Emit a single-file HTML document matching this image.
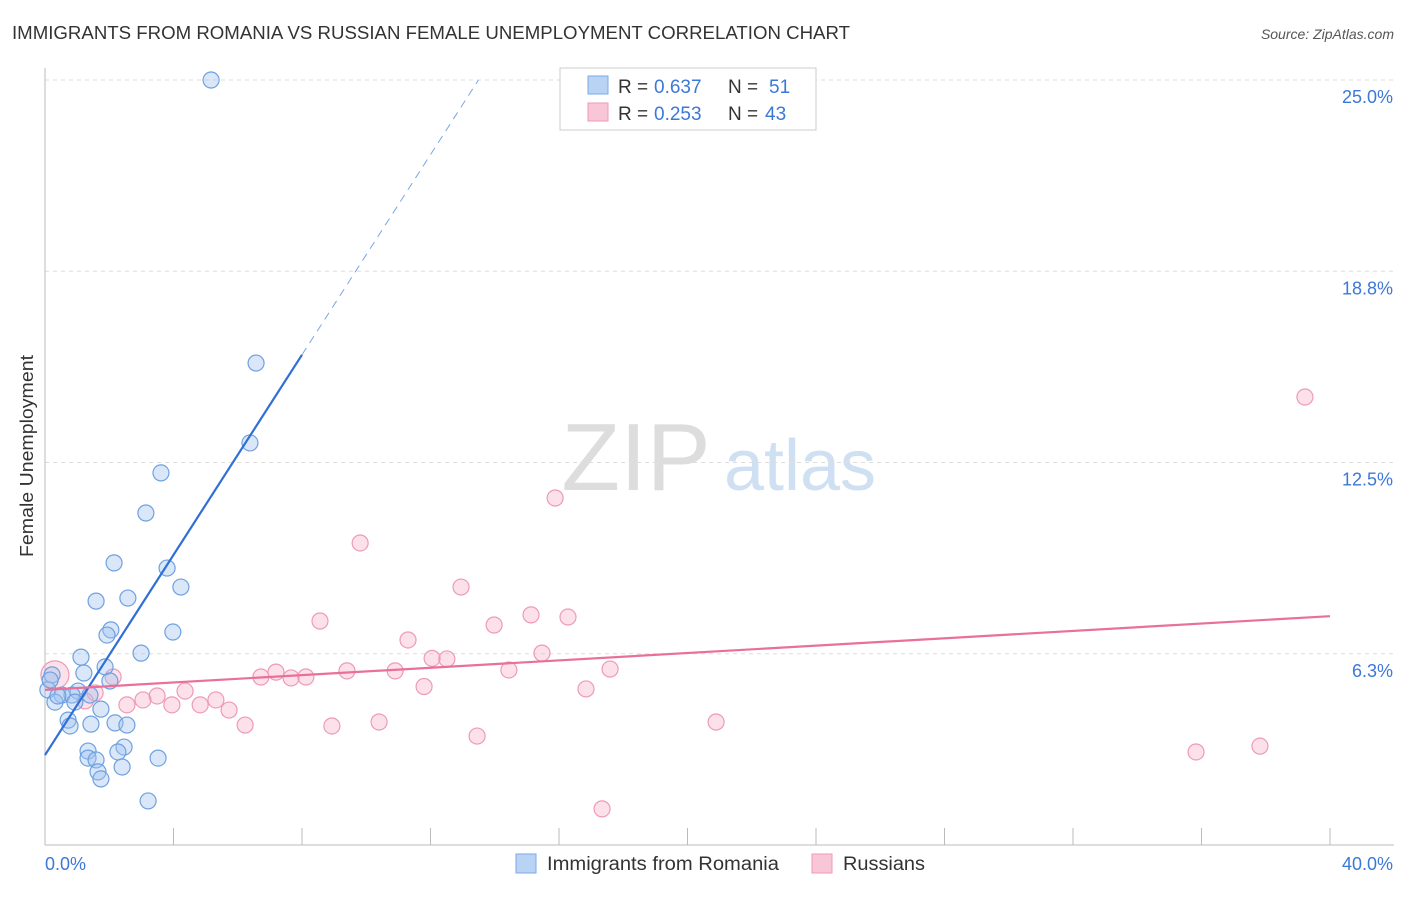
<!DOCTYPE html>
<html><head><meta charset="utf-8"><style>
body{margin:0;background:#fff;font-family:"Liberation Sans",sans-serif}
svg text{font-family:"Liberation Sans",sans-serif}
</style></head><body>
<svg id="chart" width="1406" height="892" viewBox="0 0 1406 892" xmlns="http://www.w3.org/2000/svg">
<text x="12" y="39" font-size="18" fill="#333" textLength="838" lengthAdjust="spacingAndGlyphs">IMMIGRANTS FROM ROMANIA VS RUSSIAN FEMALE UNEMPLOYMENT CORRELATION CHART</text>
<text x="1394" y="39" font-size="14" fill="#555" text-anchor="end" font-style="italic">Source: ZipAtlas.com</text>
<text x="33" y="456" font-size="18" fill="#333" text-anchor="middle" textLength="202" lengthAdjust="spacingAndGlyphs" transform="rotate(-90 33 456)">Female Unemployment</text>
<g><text x="636" y="490" font-size="96" fill="#ddd" text-anchor="middle" font-family="Liberation Serif">ZIP</text><text x="800" y="490" font-size="72" fill="#cfe0f3" text-anchor="middle">atlas</text></g>
<g id="grid"></g><g id="axes"></g><g id="pts"></g><g id="lines"></g>
<g>
<rect x="560" y="68" width="256" height="62" fill="#fff" stroke="#ccc"/>
<rect x="588" y="76" width="20" height="18" fill="#b9d3f5" stroke="#7aaae8"/>
<rect x="588" y="103" width="20" height="18" fill="#f8c6d6" stroke="#ee9ab6"/>
<text x="618" y="93" font-size="19" fill="#333">R =</text><text x="654" y="93" font-size="19" fill="#3b78d8">0.637</text>
<text x="728" y="93" font-size="19" fill="#333">N =</text><text x="769" y="93" font-size="19" fill="#3b78d8">51</text>
<text x="618" y="120" font-size="19" fill="#333">R =</text><text x="654" y="120" font-size="19" fill="#3b78d8">0.253</text>
<text x="728" y="120" font-size="19" fill="#333">N =</text><text x="765" y="120" font-size="19" fill="#3b78d8">43</text>
</g>
<g>
<rect x="516" y="854" width="20" height="19" fill="#b9d3f5" stroke="#7aaae8"/>
<text x="547" y="870" font-size="19" fill="#333" textLength="232" lengthAdjust="spacingAndGlyphs">Immigrants from Romania</text>
<rect x="812" y="854" width="20" height="19" fill="#f8c6d6" stroke="#ee9ab6"/>
<text x="843" y="870" font-size="19" fill="#333" textLength="82" lengthAdjust="spacingAndGlyphs">Russians</text>
</g>
</svg>
<script>
const yTicks=[6.25,12.5,18.75,25];
const yTickLabels=["6.3%","12.5%","18.8%","25.0%"];
const xTickLabels=["0.0%","40.0%"];
const blueX=[5.17,6.57,6.38,3.61,3.14,2.15,3.8,4.23,1.59,2.58,2.05,1.93,3.98,2.99,1.12,1.87,1.21,0.22,2.02,0.09,1.03,0.53,0.84,1.4,0.31,0.93,1.74,0.72,0.78,1.43,2.18,2.55,2.46,1.34,2.27,1.34,3.52,1.59,2.4,1.65,1.74,3.21,0.16,0.4];
const blueY=[25,15.75,13.14,12.16,10.85,9.22,9.05,8.43,7.97,8.07,7.03,6.86,6.96,6.27,6.14,5.82,5.62,5.56,5.36,5.07,5.03,4.9,4.9,4.9,4.67,4.67,4.44,4.08,3.89,3.95,3.99,3.92,3.2,3.07,3.04,2.84,2.84,2.78,2.55,2.39,2.16,1.44,5.39,4.87];
const pinkX=[39.22,15.88,9.81,12.95,8.56,15.13,16.28,13.98,11.3,15.47,12.05,12.51,17.59,14.44,9.4,10.9,7.19,6.72,7.66,8.12,2.12,11.8,16.84,4.36,3.49,1.56,3.05,5.32,3.95,4.83,2.55,5.73,6.23,8.93,10.4,20.89,13.45,35.83,37.82,17.34,0.31,1.25];
const pinkY=[14.64,11.34,9.87,8.43,7.32,7.52,7.45,7.19,6.7,6.27,6.1,6.08,5.75,5.72,5.69,5.69,5.65,5.49,5.46,5.49,5.49,5.18,5.1,5.03,4.87,4.97,4.74,4.74,4.58,4.58,4.58,4.41,3.92,3.89,4.02,4.02,3.56,3.04,3.23,1.18,5.56,4.71];
const blueLine=[2.94,1.635], pinkLine=[5.07,0.0602];
const X=v=>45+v*32.125, Y=v=>845-v*30.6;
const NS="http://www.w3.org/2000/svg";
function mk(tag,at,parent){const e=document.createElementNS(NS,tag);for(const k in at)e.setAttribute(k,at[k]);document.getElementById(parent).appendChild(e);return e;}
yTicks.forEach((t,i)=>{
 const g=mk('line',{x1:45,x2:1394,y1:Y(t),y2:Y(t),stroke:'#ddd','stroke-dasharray':'4,4'},'grid');
 
 
 const l=mk('text',{x:1393,y:Y(t)+23,'font-size':18,fill:'#3b78d8','text-anchor':'end'},'axes');
 l.textContent=yTickLabels[i];
 
 
});
const ax=mk('line',{x1:45,x2:45,y1:68,y2:845,stroke:'#bbb'},'axes');


const bx=mk('line',{x1:45,x2:1394,y1:845,y2:845,stroke:'#bbb'},'axes');


for(let i=0;i<=10;i++){const t=mk('line',{x1:X(i*4),x2:X(i*4),y1:828,y2:845,stroke:'#bbb'},'axes');
 
 }
[[45,'start',0],[1393,'end',1]].forEach(([x,a,i])=>{const t=mk('text',{x:x,y:870,'font-size':18,fill:'#3b78d8','text-anchor':a},'axes');t.textContent=xTickLabels[i];
 
 });
pinkX.forEach((x,i)=>{const c=mk('circle',{cx:X(x),cy:Y(pinkY[i]),r:(i==40?14:8),fill:'rgba(246,170,196,0.35)',stroke:'#ee9ab6','stroke-width':1.2},'pts');
 
 });
blueX.forEach((x,i)=>{const c=mk('circle',{cx:X(x),cy:Y(blueY[i]),r:8,fill:'rgba(160,196,240,0.4)',stroke:'#6fa0e0','stroke-width':1.2},'pts');
 
 });
const bl=v=>blueLine[0]+blueLine[1]*v;
const l1=mk('line',{x1:X(0),y1:Y(bl(0)),x2:X(8),y2:Y(bl(8)),stroke:'#2f6fd6','stroke-width':2.2},'lines');


const xe=(25-blueLine[0])/blueLine[1];
const l2=mk('line',{x1:X(8),y1:Y(bl(8)),x2:X(xe),y2:Y(25),stroke:'#7aa5e5','stroke-width':1,'stroke-dasharray':'8,6'},'lines');


const pl=v=>pinkLine[0]+pinkLine[1]*v;
const l3=mk('line',{x1:X(0),y1:Y(pl(0)),x2:X(40),y2:Y(pl(40)),stroke:'#e8709a','stroke-width':2.2},'lines');


</script>
</body></html>
